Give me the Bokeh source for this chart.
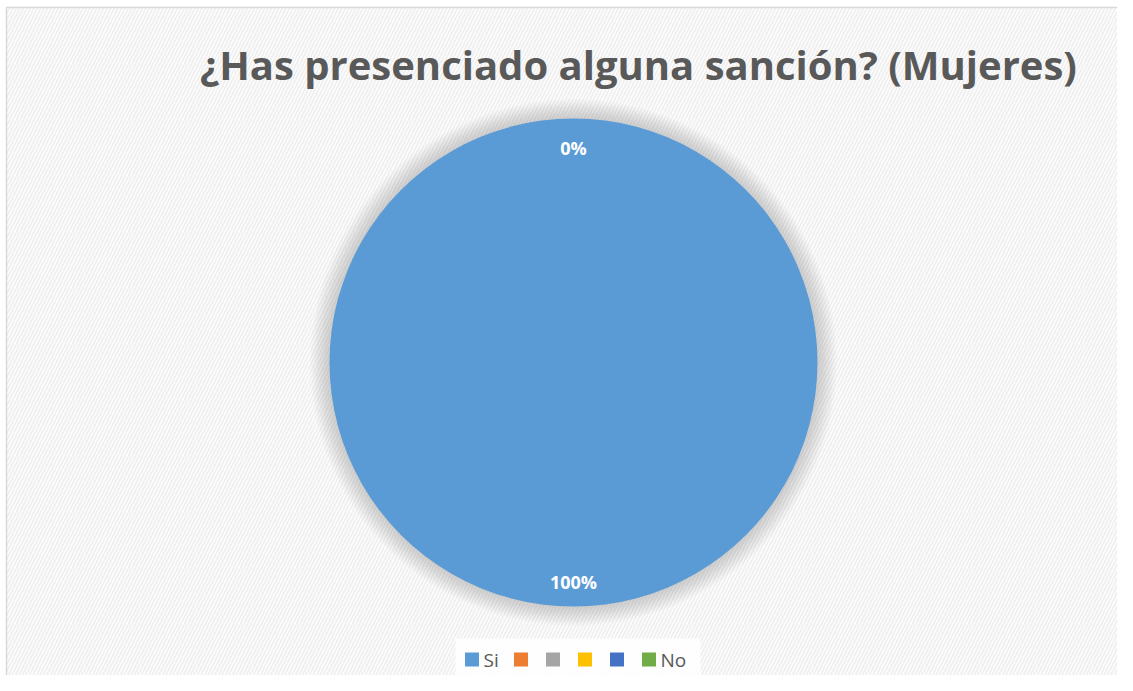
import numpy as np
from bokeh.plotting import figure
from bokeh.models import ColumnDataSource, Range1d
from bokeh.core.properties import value
from bokeh.embed import file_html
from bokeh.resources import INLINE

# ---- data ----
title_text = "¿Has presenciado alguna sanción? (Mujeres)"
categories = ["Si", "", "", "", "", "No"]
shares = [1.0, 0.0, 0.0, 0.0, 0.0, 0.0]          # fraction of the pie
labelled = [True, False, False, False, False, True]  # which slices show a % label
colors = ["#5B9BD5", "#ED7D31", "#A5A5A5", "#FFC000", "#4472C4", "#70AD47"]

W, H = 1117, 675
p = figure(width=W, height=H, output_backend="svg", toolbar_location=None,
           x_range=Range1d(0, W), y_range=Range1d(0, H), min_border=0,
           outline_line_color=None)
p.axis.visible = False
p.grid.visible = False
p.background_fill_color = "white"
p.border_fill_color = "white"

def Y(yref):
    return H - yref

# hatched chart-area background with a light border
p.quad(left=[6], right=[W + 4], bottom=[-4], top=[Y(7)], fill_color="white",
       hatch_pattern="/", hatch_color="#f0f0f0", hatch_scale=7, hatch_weight=2.0,
       line_color="#d9d9d9", line_width=1.5)

# pie geometry (pixel units)
cx, cy, r = 573, Y(362), 244

# soft shadow around the pie
for k in range(1, 16):
    p.circle(x=[cx], y=[cy], radius=r + k * 1.3, fill_color="#808080",
             fill_alpha=0.025, line_color=None)

# wedges from data
ang = np.pi / 2
starts, ends = [], []
for s in shares:
    a0 = ang
    a1 = ang - s * 2 * np.pi
    if s >= 1.0:
        a1 = a0 - 2 * np.pi + 1e-5
    starts.append(a0)
    ends.append(a1)
    ang = a1 if s < 1.0 else a0 - 2 * np.pi
keep = [i for i, s in enumerate(shares) if s > 0]
src = ColumnDataSource(dict(cat=[categories[i] for i in keep],
                            start=[starts[i] for i in keep],
                            end=[ends[i] for i in keep],
                            color=[colors[i] for i in keep]))
p.wedge(x=cx, y=cy, radius=r, start_angle="start", end_angle="end", direction="clock",
        fill_color="color", line_color=None, source=src)

# % labels
lx, ly, lt = [], [], []
for s, a0, a1, show in zip(shares, starts, ends, labelled):
    if not show:
        continue
    mid = (a0 + a1) / 2 if s < 1.0 else a0 - np.pi
    rr = r * (0.88 if s < 1.0 else 0.9)
    lx.append(cx + rr * np.cos(mid))
    ly.append(cy + rr * np.sin(mid))
    lt.append(f"{round(s * 100):.0f}%")
p.text(x=lx, y=ly, text=lt, text_color="white", text_font=value("Open Sans"),
       text_font_style="bold", text_font_size="18px", text_align="center",
       text_baseline="middle")

# title
p.text(x=[638], y=[Y(64)], text=[title_text], text_color="#595959",
       text_font=value("Open Sans"), text_font_style="bold", text_font_size="40px",
       text_align="center", text_baseline="middle")

# legend (manual, horizontal) on a white box
leg_y = Y(659)
p.quad(left=[455], right=[700], bottom=[Y(680)], top=[Y(638)], fill_color="white",
       fill_alpha=0.85, line_color=None)
x = 465
sq_x, txt_x, txt = [], [], []
for c in categories:
    sq_x.append(x + 6.5)
    if c:
        txt_x.append(x + 18)
        txt.append(c)
        x += 18 + 9 * len(c) + 13
    else:
        x += 32
p.rect(x=sq_x, y=[leg_y] * len(sq_x), width=14, height=14, fill_color=colors, line_color=None)
p.text(x=txt_x, y=[leg_y] * len(txt), text=txt, text_color="#595959",
       text_font=value("Open Sans"), text_font_size="19px", text_align="left",
       text_baseline="middle")

open("out.html", "w").write(file_html(p, INLINE))
